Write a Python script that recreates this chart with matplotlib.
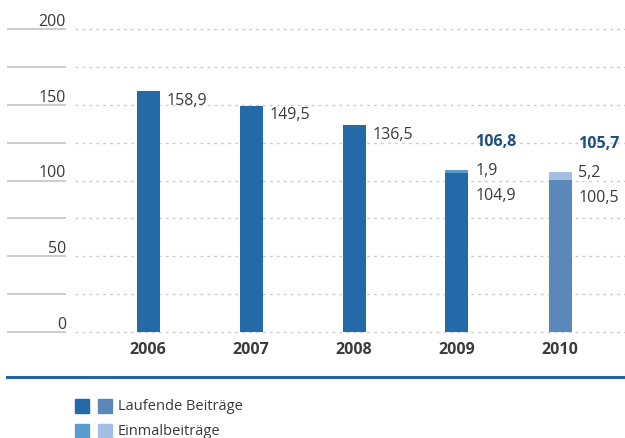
import matplotlib.pyplot as plt
from matplotlib.patches import Rectangle
from matplotlib.transforms import blended_transform_factory

plt.rcParams['font.family'] = ['Open Sans', 'DejaVu Sans']

# ── Data ──
years = ['2006', '2007', '2008', '2009', '2010']
laufend = [158.9, 149.5, 136.5, 104.9, 100.5]
einmal = [0.0, 0.0, 0.0, 1.9, 5.2]
yticks = [0, 50, 100, 150, 200]
grid_levels = [0, 25, 50, 75, 100, 125, 150, 175, 200]

# 2010 uses a lighter pair of blues
c_lauf = ['#256aa8', '#256aa8', '#256aa8', '#256aa8', '#5b88ba']
c_einm = ['#5b9bd0', '#5b9bd0', '#5b9bd0', '#5b9bd0', '#a3bfe3']
grid_col = '#cccccc'
text_col = '#3a3a3a'
total_col = '#1f4e80'

W, H, DPI = 625, 439, 100
fig = plt.figure(figsize=(W / DPI, H / DPI), dpi=DPI)
ax = fig.add_axes([75 / W, (H - 333) / H, 550 / W, (333 - 30) / H])
ax.set_ylim(0, 200)
ax.set_xlim(-73 / 103, 477 / 103)
ax.axis('off')

x = list(range(len(years)))
bw = 23 / 103

# ── Gridlines: solid stub on the left, dotted across the plot ──
tr = blended_transform_factory(fig.transFigure, ax.transData)
for g in grid_levels:
    ax.plot([7 / W, 66 / W], [g, g], color=grid_col, lw=1.4, transform=tr,
            clip_on=False, solid_capstyle='butt')
    ax.plot([75 / W, 1.0], [g, g], color=grid_col, lw=1.0, transform=tr,
            clip_on=False, linestyle=(0, (2, 3)))
for t in yticks:
    ax.annotate(f'{t}', xy=(66 / W, t), xycoords=tr, xytext=(0, 3),
                textcoords='offset points', ha='right', va='baseline',
                fontsize=11.5, color=text_col)

# ── Bars ──
ax.bar(x, laufend, width=bw, color=c_lauf, zorder=3)
ax.bar(x, einmal, width=bw, bottom=laufend, color=c_einm, zorder=3)

# ── Value labels ──
def fmt(v):
    return f'{v:.1f}'.replace('.', ',')

for i in x:
    lx = i + bw / 2
    total = laufend[i] + einmal[i]
    if einmal[i] > 0:
        ax.annotate(fmt(einmal[i]), xy=(lx, total), xytext=(5, 0),
                    textcoords='offset points', ha='left', va='center',
                    fontsize=11.5, color=text_col)
        ax.annotate(fmt(laufend[i]), xy=(lx, total), xytext=(5, -18),
                    textcoords='offset points', ha='left', va='center',
                    fontsize=11.5, color=text_col)
        ax.annotate(fmt(total), xy=(lx, total), xytext=(5, 21),
                    textcoords='offset points', ha='left', va='center',
                    fontsize=11.5, color=total_col, fontweight='bold')
    else:
        ax.annotate(fmt(laufend[i]), xy=(lx, total), xytext=(5, -6),
                    textcoords='offset points', ha='left', va='center',
                    fontsize=11.5, color=text_col)
    ax.annotate(years[i], xy=(i, 0), xytext=(0, -12),
                textcoords='offset points', ha='center', va='center',
                fontsize=11.5, color=text_col, fontweight='bold')

# ── Separator line ──
fig.add_artist(plt.Line2D([7 / W, 1.0], [(H - 378) / H] * 2,
                          color='#2a64a0', lw=2.2))

# ── Legend ──
legend_rows = [('Laufende Beiträge', c_lauf[0], c_lauf[4], 400),
               ('Einmalbeiträge', c_einm[0], c_einm[4], 425)]
for label, ca, cb, top in legend_rows:
    for x0, c in ((75, ca), (98, cb)):
        fig.add_artist(Rectangle((x0 / W, (H - top - 14) / H), 14 / W, 14 / H,
                                 transform=fig.transFigure, color=c))
    fig.text(118 / W, (H - top - 7) / H, label, ha='left', va='center',
             fontsize=10.5, color=text_col)

fig.savefig('out.png', dpi=DPI, facecolor='white')
